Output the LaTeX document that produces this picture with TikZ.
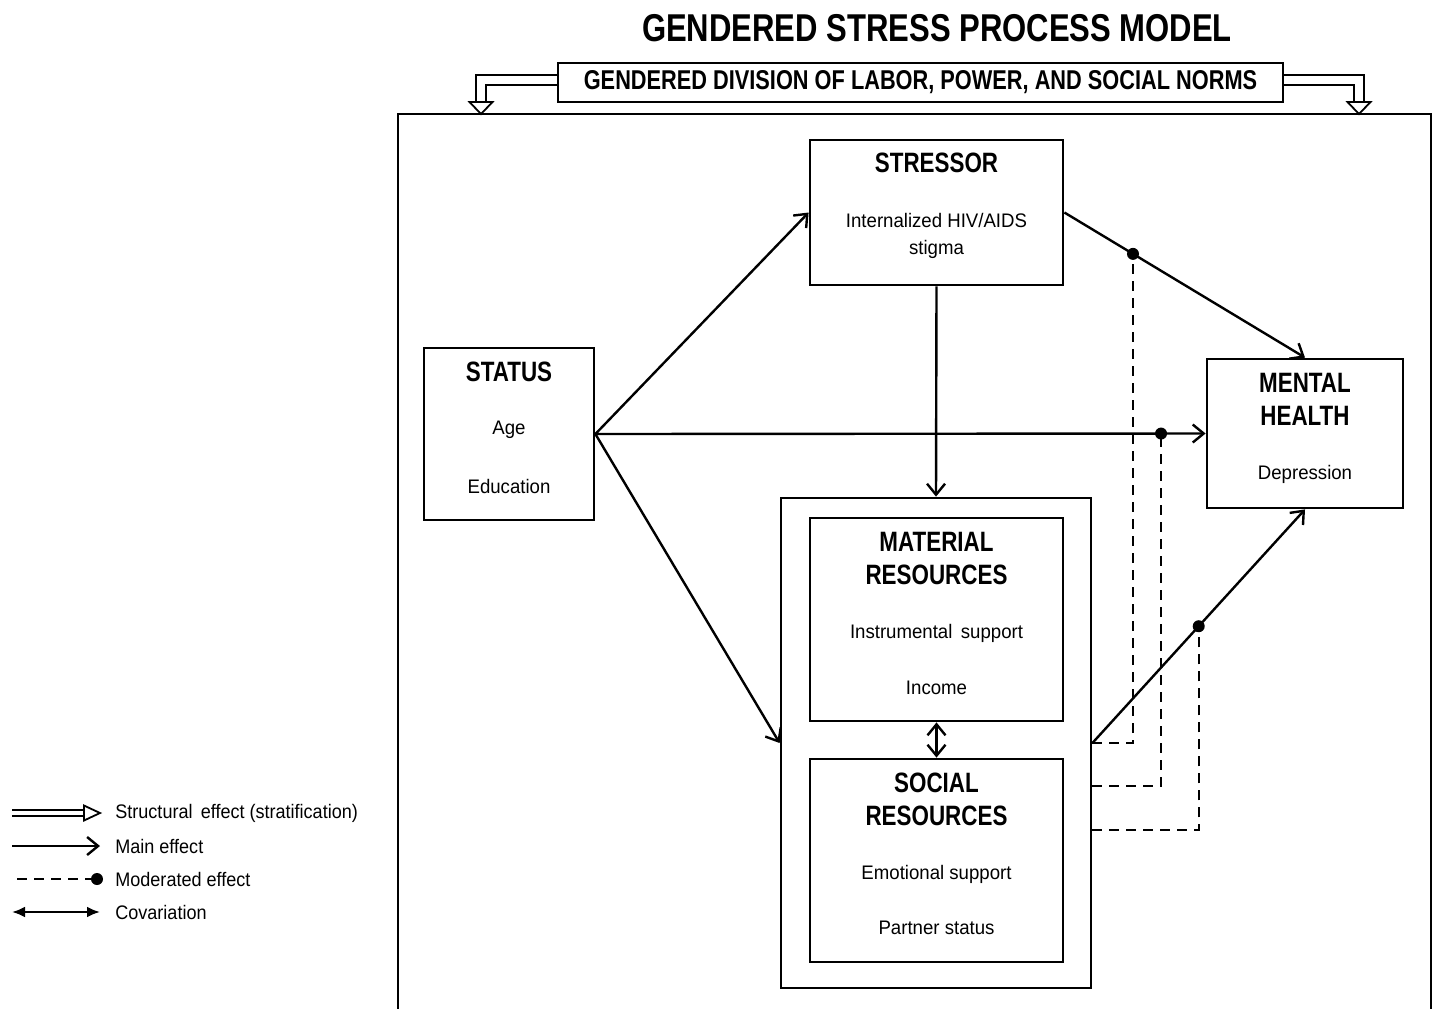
\documentclass[tikz,border=0pt]{standalone}
\usepackage{fontspec}
\setmainfont{Liberation Sans}
\newfontfamily\headfont{Liberation Sans}[FakeStretch=0.8]
\newfontfamily\itemfont{Liberation Sans}[FakeStretch=0.95]
\newfontfamily\legfont{Liberation Sans}[FakeStretch=0.92]
\usetikzlibrary{arrows.meta,positioning}

\begin{document}
\begin{tikzpicture}
[x=0.5pt, y=-0.5pt, line join=miter]
\tikzset{
	box/.style = {draw, line width=1.4pt, inner sep=0},
	head/.style = {font=\headfont\bfseries\fontsize{14}{16.5}\selectfont, align=center},
	item/.style = {font=\itemfont\fontsize{9.8}{13.5}\selectfont, align=center},
	legtext/.style = {font=\legfont\fontsize{9.8}{11}\selectfont, anchor=west, inner sep=0},
	main/.style = {line width=1.2pt, -{Straight Barb[length=5.5pt,width=9pt]}},
	covary/.style = {line width=1.2pt, {Straight Barb[length=5.5pt,width=9pt]}-{Straight Barb[length=5.5pt,width=9pt]}},
	moderate/.style = {line width=1.2pt, dash pattern=on 5pt off 3.5pt},
	dot/.style = {circle, fill, inner sep=0, minimum size=6pt},
	structural/.style = {line width=0.9pt, double distance=4.1pt},
	hollowtip/.style = {line width=0.9pt, fill=white}
}
\useasboundingbox (0,0) rectangle (1434,1008);

% title and outer frame
\node(title) [font=\headfont\bfseries\fontsize{19.4}{21}\selectfont] at (937,28) {GENDERED STRESS PROCESS MODEL};
\node(norms) [box, minimum width=362.5pt, minimum height=19.5pt, font=\headfont\bfseries\fontsize{13.6}{16}\selectfont] at (920.5,82.5) {GENDERED DIVISION OF LABOR, POWER, AND SOCIAL NORMS};
\draw [line width=1.4pt] (398,1020) -- (398,114) -- (1431,114) -- (1431,1020);

\coordinate (sl) at (481,102);
\coordinate (sr) at (1359,102);
\draw [structural] ([yshift=1.25pt]norms.west) -| (sl);
\draw [structural] ([yshift=1.25pt]norms.east) -| (sr);
\draw [hollowtip] (sl) ++(-11.5,0) -- ++(23,0) -- (481,114) -- cycle;
\draw [hollowtip] (sr) ++(-11.5,0) -- ++(23,0) -- (1359,114) -- cycle;

% boxes
\node(stressor) [box, minimum width=126.5pt, minimum height=72.5pt] at (936.5,212.5) {};
\node [head] at (936.5,163) {STRESSOR};
\node [item] at (936.5,235.5) {Internalized HIV/AIDS\\stigma};

\node(status) [box, minimum width=85pt, minimum height=86pt] at (509,434) {};
\node [head] at (509,372) {STATUS};
\node [item] at (509,430) {Age};
\node [item] at (509,486) {Education};

\node(health) [box, minimum width=98pt, minimum height=74.5pt] at (1305,433.5) {};
\node [head] at (1305,399.5) {MENTAL\\HEALTH};
\node [item] at (1305,474) {Depression};

\node(res) [box, minimum width=155pt, minimum height=245pt] at (936,743) {};
\node(material) [box, minimum width=126.5pt, minimum height=101.5pt] at (936.5,619.5) {};
\node [head] at (936.5,558.5) {MATERIAL\\RESOURCES};
\node [item] at (936.5,633) {Instrumental\, support};
\node [item] at (936.5,688) {Income};

\node(social) [box, minimum width=126.5pt, minimum height=101.5pt] at (936.5,860.5) {};
\node [head] at (936.5,799.5) {SOCIAL\\RESOURCES};
\node [item] at (936.5,874) {Emotional support};
\node [item] at (936.5,928) {Partner status};

% main effects
\draw [main] (status.east) -- (stressor.west);
\draw [main] (status.east) -- coordinate[pos=0.927] (m2) (health.west);
\draw [main] (status.east) -- (res.west);
\draw [main] (stressor.south) -- (res.north);
\draw [main] (stressor.east) -- coordinate[pos=0.285] (m1) (health.north);
\draw [main] (res.east) -- coordinate[pos=0.5] (m3) (health.south);
\draw [covary] (material.south) -- (social.north);

% moderated effects
\draw [moderate] (res.east) -| (m1);
\draw [moderate] ([yshift=-21.5pt]res.east) -| (m2);
\draw [moderate] ([yshift=-43.5pt]res.east) -| (m3);
\node [dot] at (m1) {};
\node [dot] at (m2) {};
\node [dot] at (m3) {};

% legend
\coordinate (l1a) at (12,813);
\coordinate (l1b) at (84,813);
\draw [line width=0.9pt, double distance=2.2pt] (l1a) -- (l1b);
\draw [hollowtip] (l1b) ++(0,-7.5) -- ++(0,15) -- (100,813) -- cycle;
\node [legtext] at (115,813) {Structural\, effect (stratification)};

\coordinate (l2a) at (12,846);
\coordinate (l2b) at (100,846);
\draw [main] (l2a) -- (l2b);
\node [legtext] at (115,846) {Main effect};

\coordinate (l3a) at (17,879);
\coordinate (l3b) at (97,879);
\draw [moderate] (l3a) -- (l3b);
\node [dot] at (l3b) {};
\node [legtext] at (115,879) {Moderated effect};

\coordinate (l4a) at (12,912);
\coordinate (l4b) at (100,912);
\draw [line width=1.2pt, {Latex[length=6.5pt,width=5.5pt]}-{Latex[length=6.5pt,width=5.5pt]}] (l4a) -- (l4b);
\node [legtext] at (115,912) {Covariation};

\end{tikzpicture}
\end{document}
